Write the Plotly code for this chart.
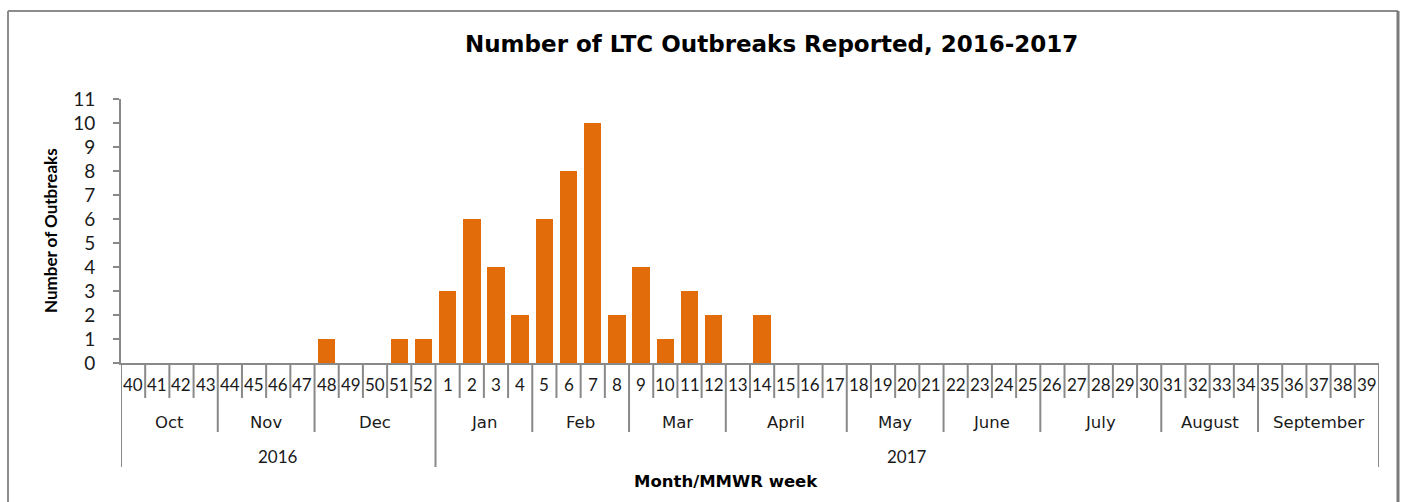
import plotly.graph_objects as go

# ---- data ----
weeks = [40, 41, 42, 43, 44, 45, 46, 47, 48, 49, 50, 51, 52,
         1, 2, 3, 4, 5, 6, 7, 8, 9, 10, 11, 12, 13, 14, 15, 16, 17,
         18, 19, 20, 21, 22, 23, 24, 25, 26, 27, 28, 29, 30,
         31, 32, 33, 34, 35, 36, 37, 38, 39]
outbreaks = [0, 0, 0, 0, 0, 0, 0, 0, 1, 0, 0, 1, 1,
             3, 6, 4, 2, 6, 8, 10, 2, 4, 1, 3, 2, 0, 2, 0, 0, 0,
             0, 0, 0, 0, 0, 0, 0, 0, 0, 0, 0, 0, 0,
             0, 0, 0, 0, 0, 0, 0, 0, 0]
months = ["Oct", "Nov", "Dec", "Jan", "Feb", "Mar", "April", "May",
          "June", "July", "August", "September"]
month_weeks = [4, 4, 5, 4, 4, 4, 5, 4, 4, 5, 4, 5]
years = ["2016", "2017"]
year_weeks = [13, 39]

title = "Number of LTC Outbreaks Reported, 2016-2017"
y_title = "Number of Outbreaks"
x_title = "Month/MMWR week"

# ---- layout constants (pixels) ----
W, H = 1405, 502
L, R, T, B = 121, 26, 99, 139
PW, PH = W - L - R, H - T - B
AX = "#898989"
FONT = "Lato, Open Sans, sans-serif"
WIDE = "DejaVu Sans, Verdana, sans-serif"
TXT = "#1a1a1a"


def px_x(px):
    return (px - L) / PW


def px_y(py):
    return (H - B - py) / PH


idx = list(range(len(weeks)))

fig = go.Figure()
fig.add_trace(go.Bar(x=idx, y=outbreaks, width=0.72,
                     marker=dict(color="#E36C0A", line=dict(width=0)),
                     hoverinfo="skip", showlegend=False))

shapes = []
annotations = []


def vline(xpos, depth):
    shapes.append(dict(type="line", xref="x", yref="paper",
                       x0=xpos, x1=xpos, y0=0, y1=-depth / PH,
                       line=dict(color=AX, width=2)))


# week level labels
for i, wk in enumerate(weeks):
    annotations.append(dict(x=i, y=0, xref="x", yref="y", yshift=-21,
                            text=str(wk), showarrow=False,
                            font=dict(family=FONT, size=17, color=TXT)))

# boundaries
month_bounds = [0]
for n in month_weeks:
    month_bounds.append(month_bounds[-1] + n)
year_bounds = [0]
for n in year_weeks:
    year_bounds.append(year_bounds[-1] + n)

for b in range(len(weeks) + 1):
    if b in year_bounds:
        vline(b - 0.5, 104)
    elif b in month_bounds:
        vline(b - 0.5, 69)
    else:
        vline(b - 0.5, 35)

for k, m in enumerate(months):
    c = (month_bounds[k] + month_bounds[k + 1] - 1) / 2
    annotations.append(dict(x=c, y=0, xref="x", yref="y", yshift=-59,
                            text=m, showarrow=False,
                            font=dict(family=WIDE, size=16.5, color=TXT)))
for k, yv in enumerate(years):
    c = (year_bounds[k] + year_bounds[k + 1] - 1) / 2
    annotations.append(dict(x=c, y=0, xref="x", yref="y", yshift=-93,
                            text=yv, showarrow=False,
                            font=dict(family=FONT, size=17, color=TXT)))

# titles
annotations.append(dict(x=px_x(771), y=px_y(44), xref="paper", yref="paper",
                        text="<b>" + title + "</b>", showarrow=False,
                        xanchor="center", yanchor="middle",
                        font=dict(family=WIDE, size=23, color="black")))
annotations.append(dict(x=px_x(50), y=0.5, xref="paper", yref="paper",
                        text="<b>" + y_title + "</b>", showarrow=False,
                        textangle=-90, xanchor="center", yanchor="middle",
                        font=dict(family=FONT, size=17, color="black")))
annotations.append(dict(x=px_x(726), y=px_y(481), xref="paper", yref="paper",
                        text="<b>" + x_title + "</b>", showarrow=False,
                        xanchor="center", yanchor="middle",
                        font=dict(family=WIDE, size=16.5, color="black")))

# outer frame
fx0, fx1, fy1, fy0 = px_x(8), px_x(1398), px_y(11), px_y(520)
shapes.append(dict(type="line", xref="paper", yref="paper", x0=fx0, x1=fx0,
                   y0=fy0, y1=fy1, line=dict(color="#8c8c8c", width=2)))
shapes.append(dict(type="line", xref="paper", yref="paper", x0=fx0, x1=fx1,
                   y0=fy1, y1=fy1, line=dict(color="#8c8c8c", width=2)))
shapes.append(dict(type="line", xref="paper", yref="paper", x0=fx1, x1=fx1,
                   y0=fy0, y1=fy1, line=dict(color="#7a7a7a", width=3)))

fig.update_layout(
    width=W, height=H,
    margin=dict(l=L, r=R, t=T, b=B, pad=0),
    paper_bgcolor="white", plot_bgcolor="white",
    shapes=shapes, annotations=annotations,
    bargap=0,
    xaxis=dict(range=[-0.5, len(weeks) - 0.5], showticklabels=False,
               ticks="", showgrid=False, zeroline=False,
               showline=True, linecolor=AX, linewidth=2),
    yaxis=dict(range=[0, 11], dtick=1, tick0=0, showgrid=False,
               zeroline=False, showline=True, linecolor=AX, linewidth=2,
               ticks="outside", ticklen=6, tickcolor=AX, tickwidth=2,
               ticklabelstandoff=14,
               tickfont=dict(family=FONT, size=19, color=TXT)),
)

fig.write_html("out.html", config={"displayModeBar": False},
               post_script="document.body.style.margin='0';")
